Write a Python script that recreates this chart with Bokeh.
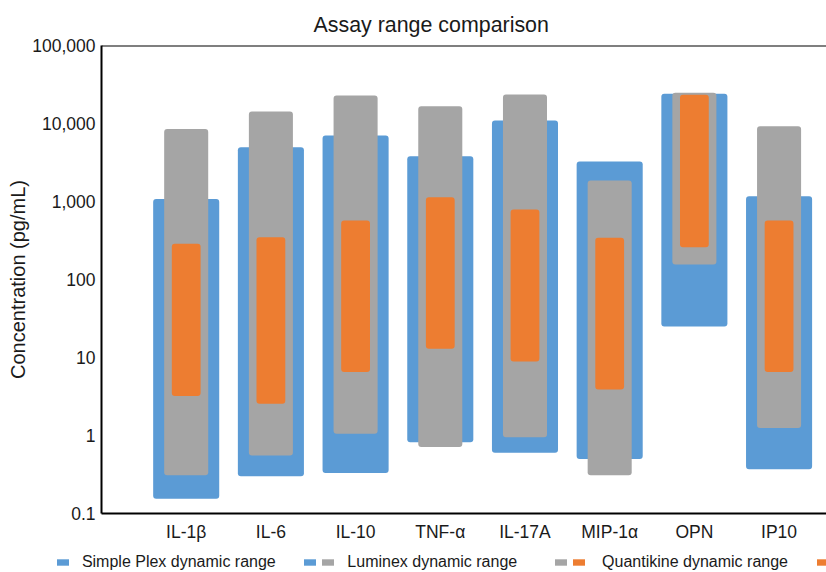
from bokeh.plotting import figure
from bokeh.layouts import column
from bokeh.models import (Range1d, FixedTicker, NumeralTickFormatter, Span,
                          Legend, LegendItem, ColumnDataSource)
from bokeh.embed import file_html
from bokeh.resources import INLINE

# ---- data (pg/mL) ----
categories = ["IL-1β", "IL-6", "IL-10", "TNF-α", "IL-17A", "MIP-1α", "OPN", "IP10"]
simple_low = [0.155, 0.30, 0.33, 0.82, 0.60, 0.50, 25, 0.37]
simple_high = [1080, 4970, 7020, 3810, 10900, 3260, 24000, 1170]
luminex_low = [0.31, 0.555, 1.05, 0.71, 0.95, 0.31, 156, 1.25]
luminex_high = [8500, 14250, 22850, 16680, 23500, 1860, 24700, 9240]
quant_low = [3.2, 2.55, 6.5, 12.9, 8.9, 3.9, 260, 6.5]
quant_high = [287, 349, 570, 1137, 790, 342, 23300, 570]
y_ticks = [0.1, 1, 10, 100, 1000, 10000, 100000]
series_names = ["Simple Plex dynamic range", "Luminex dynamic range", "Quantikine dynamic range"]

BLUE, GRAY, ORANGE = "#5B9BD5", "#A5A5A5", "#ED7D31"
FONT = "Liberation Sans"
TXT = "#1a1a1a"

positions = list(range(1, len(categories) + 1))
src = ColumnDataSource(dict(x=positions, cat=categories,
                            sl=simple_low, sh=simple_high,
                            ll=luminex_low, lh=luminex_high,
                            ql=quant_low, qh=quant_high))

p = figure(width=826, height=549, y_axis_type="log",
           x_range=Range1d(0, 8.56), y_range=Range1d(y_ticks[0], y_ticks[-1]),
           output_backend="svg", toolbar_location=None,
           min_border_left=101, min_border_top=45, min_border_bottom=36, min_border_right=0,
           title="Assay range comparison")
p.frame_align = False

p.title.text_font = FONT
p.title.text_font_size = "21.4px"
p.title.text_font_style = "normal"
p.title.text_color = TXT
p.title.align = "left"
p.title.offset = 212
p.title.standoff = 18

p.outline_line_color = None
p.xgrid.visible = False
p.ygrid.visible = False

series_cols = [("sl", "sh"), ("ll", "lh"), ("ql", "qh")]
bar_styles = [(BLUE, 0.78), (GRAY, 0.52), (ORANGE, 0.34)]
for (lo, hi), (c, w) in zip(series_cols, bar_styles):
    p.vbar(x="x", width=w, bottom=lo, top=hi, source=src,
           fill_color=c, line_color=None, border_radius=3)

# top frame line
p.add_layout(Span(location=y_ticks[-1], dimension="width", line_color="black", line_width=2))

# axes
xa = p.xaxis[0]
xa.ticker = FixedTicker(ticks=positions)
xa.major_label_overrides = {pos: c for pos, c in zip(positions, categories)}
xa.major_tick_line_color = None
xa.minor_tick_line_color = None
xa.major_tick_out = 0
xa.major_tick_in = 0
xa.minor_tick_out = 0
xa.axis_line_color = "black"
xa.axis_line_width = 2
xa.major_label_text_font = FONT
xa.major_label_text_font_size = "17.5px"
xa.major_label_text_color = TXT
xa.major_label_standoff = 8

ya = p.yaxis[0]
ya.ticker = FixedTicker(ticks=y_ticks, minor_ticks=[])
ya.formatter = NumeralTickFormatter(format="0,0.[0]")
ya.major_tick_line_color = None
ya.minor_tick_line_color = None
ya.major_tick_out = 0
ya.major_tick_in = 0
ya.minor_tick_out = 0
ya.axis_line_color = "black"
ya.axis_line_width = 2
ya.major_label_text_font = FONT
ya.major_label_text_font_size = "17.5px"
ya.major_label_text_color = TXT
ya.major_label_standoff = 6
ya.axis_label = "Concentration (pg/mL)"
ya.axis_label_text_font = FONT
ya.axis_label_text_font_size = "20px"
ya.axis_label_text_font_style = "normal"
ya.axis_label_text_color = TXT
ya.axis_label_standoff = 0

# ---- legend strip (separate small figure below the chart) ----
lg = figure(width=826, height=23, x_axis_type=None, y_axis_type=None,
            x_range=Range1d(-10, -9), y_range=Range1d(0, 1),
            output_backend="svg", toolbar_location=None, min_border=0)
lg.frame_align = False
lg.outline_line_color = None
lg.xgrid.visible = False
lg.ygrid.visible = False
# legend proxies: same data, drawn outside the strip's visible range
lr = [lg.vbar(x="x", width=w, bottom=lo, top=hi, source=src,
              fill_color=c, line_color=None, border_radius=2)
      for (lo, hi), (c, w) in zip(series_cols, bar_styles)]

NB = "\u00a0"
legend = Legend(items=[
    LegendItem(label=NB * 2 + series_names[0] + NB * 6, renderers=[lr[0]]),
    LegendItem(label="", renderers=[lr[0]]),
    LegendItem(label=NB * 2 + series_names[1] + NB * 8, renderers=[lr[1]]),
    LegendItem(label="", renderers=[lr[1]]),
    LegendItem(label=NB * 3 + series_names[2] + NB * 6, renderers=[lr[2]]),
    LegendItem(label="", renderers=[lr[2]]),
], orientation="horizontal", location=(55, 1),
    glyph_width=15, glyph_height=8, label_standoff=3, spacing=0, label_width=0,
    padding=0, margin=0, border_line_color=None, background_fill_alpha=0,
    label_text_font=FONT, label_text_font_size="16px", label_text_color=TXT)
lg.add_layout(legend, "center")

layout = column(p, lg, spacing=0)
open("out.html", "w").write(file_html(layout, INLINE))
